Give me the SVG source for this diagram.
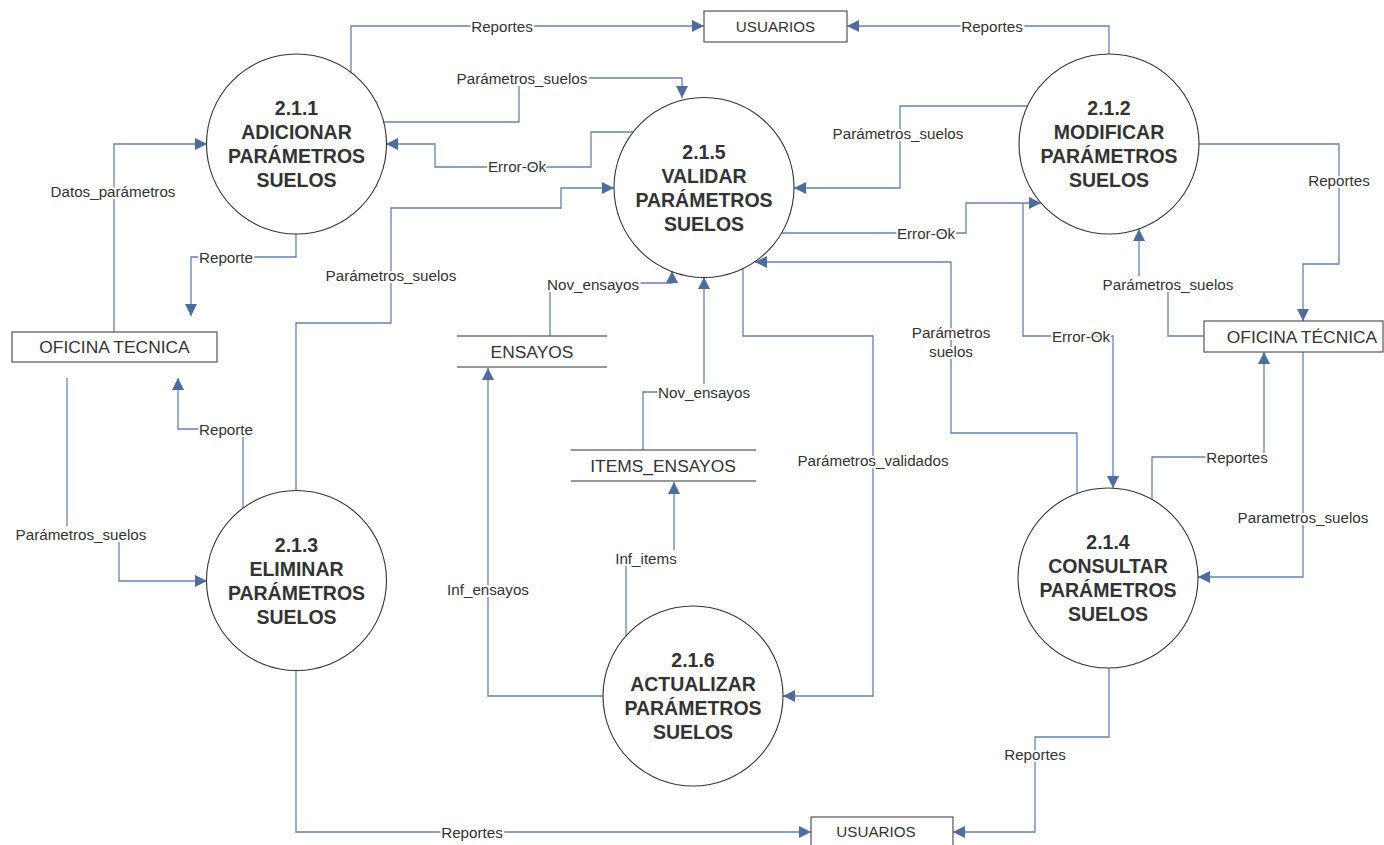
<svg xmlns="http://www.w3.org/2000/svg" width="1384" height="845" viewBox="0 0 1384 845">
<style>
.bg{fill:#ffffff}
.proc{fill:#ffffff;stroke:#333333;stroke-width:1.1}
.ent{fill:#ffffff;stroke:#555555;stroke-width:1.2}
.store{stroke:#333333;stroke-width:1.2}
.pt{font-family:"Liberation Sans",Arial,sans-serif;font-size:19.5px;font-weight:bold;fill:#333333;text-anchor:middle}
.et{font-family:"Liberation Sans",Arial,sans-serif;font-size:17.4px;fill:#333333;text-anchor:middle}
.et15{font-family:"Liberation Sans",Arial,sans-serif;font-size:15.2px;fill:#333333;text-anchor:middle}
.c{fill:none;stroke:#6683b0;stroke-width:1.3;marker-end:url(#ah)}
.lbg{fill:#ffffff}
.lb{font-family:"Liberation Sans",Arial,sans-serif;font-size:15.2px;fill:#333333;text-anchor:middle;stroke:#ffffff;stroke-width:4;paint-order:stroke;stroke-linejoin:round}
</style>
<defs>
<marker id="ah" markerUnits="userSpaceOnUse" markerWidth="13" markerHeight="12" refX="12" refY="6" orient="auto">
<path d="M0,0 L12,6 L0,12 z" fill="#4e6d9c"/>
</marker>
</defs>
<rect class="bg" x="0" y="0" width="1384" height="845"/>

<g id="connectors">
<path class="c" d="M351,72 V26 H704"/>
<path class="c" d="M1109,54 V26 H847"/>
<path class="c" d="M380,122 H519 V78 H682 V98"/>
<path class="c" d="M633,132 H591 V167 H435 V144 H386"/>
<path class="c" d="M114,332 V144 H207"/>
<path class="c" d="M296,234 V257 H191 V316"/>
<path class="c" d="M296,491 V323 H391 V208 H561 V188 H614"/>
<path class="c" d="M1027,106 H900 V188 H794"/>
<path class="c" d="M782,233 H966 V203 H1041"/>
<path class="c" d="M1023,203 V336 H1113 V488"/>
<path class="c" d="M1077,493 V433 H951 V262 H755"/>
<path class="c" d="M743,268 V336 H873 V696 H783"/>
<path class="c" d="M550,336 V283 H672 V271"/>
<path class="c" d="M643,450 V392 H704 V277"/>
<path class="c" d="M603,696 H488 V368"/>
<path class="c" d="M626,636 V558 H674 V482"/>
<path class="c" d="M67,378 V534 H119 V581 H207"/>
<path class="c" d="M243,508 V429 H178 V378"/>
<path class="c" d="M296,670 V832 H811"/>
<path class="c" d="M1109,668 V737 H1035 V832 H953"/>
<path class="c" d="M1199,144 H1339 V264 H1303 V321"/>
<path class="c" d="M1204,336 H1168 V284 H1139 V229"/>
<path class="c" d="M1152,503 V457 H1264 V352"/>
<path class="c" d="M1303,352 V577 H1198"/>
<rect class="lbg" x="455.5" y="70" width="133" height="16"/>
<rect class="lbg" x="546" y="275" width="94" height="16"/>
<rect class="lbg" x="657" y="384" width="94" height="16"/>
<rect class="lbg" x="614" y="550" width="64" height="16"/>
<rect class="lbg" x="14.5" y="526" width="133" height="16"/>
<rect class="lbg" x="1101.5" y="276" width="133" height="16"/>
<text class="lb" x="502" y="31.5">Reportes</text>
<text class="lb" x="992" y="31.5">Reportes</text>
<text class="lb" x="522" y="83.5">Parámetros_suelos</text>
<text class="lb" x="517" y="172">Error-Ok</text>
<text class="lb" x="113" y="196.5">Datos_parámetros</text>
<text class="lb" x="226" y="262.5">Reporte</text>
<text class="lb" x="391" y="280.5">Parámetros_suelos</text>
<text class="lb" x="898" y="138.5">Parámetros_suelos</text>
<text class="lb" x="926" y="238.5">Error-Ok</text>
<text class="lb" x="951" y="337.5">Parámetros</text>
<text class="lb" x="951" y="356.5">suelos</text>
<text class="lb" x="1081" y="341.5">Error-Ok</text>
<text class="lb" x="1168" y="289.5">Parámetros_suelos</text>
<text class="lb" x="1339" y="185.5">Reportes</text>
<text class="lb" x="1237" y="462.5">Reportes</text>
<text class="lb" x="1303" y="522.5">Parametros_suelos</text>
<text class="lb" x="873" y="465.5">Parámetros_validados</text>
<text class="lb" x="593" y="289.5">Nov_ensayos</text>
<text class="lb" x="704" y="397.5">Nov_ensayos</text>
<text class="lb" x="646" y="563.5">Inf_items</text>
<text class="lb" x="488" y="594.5">Inf_ensayos</text>
<text class="lb" x="81" y="539.5">Parámetros_suelos</text>
<text class="lb" x="226" y="434.5">Reporte</text>
<text class="lb" x="472" y="837.5">Reportes</text>
<text class="lb" x="1035" y="759.5">Reportes</text>
</g>

<g id="p211">
<circle class="proc" cx="296.5" cy="144" r="90"/>
<text class="pt" x="296.5" y="115">2.1.1</text>
<text class="pt" x="296.5" y="139">ADICIONAR</text>
<text class="pt" x="296.5" y="163">PARÁMETROS</text>
<text class="pt" x="296.5" y="187">SUELOS</text>
</g>
<g id="p215">
<circle class="proc" cx="704" cy="187.5" r="90"/>
<text class="pt" x="704" y="159">2.1.5</text>
<text class="pt" x="704" y="183">VALIDAR</text>
<text class="pt" x="704" y="207">PARÁMETROS</text>
<text class="pt" x="704" y="231">SUELOS</text>
</g>
<g id="p212">
<circle class="proc" cx="1109" cy="144" r="90"/>
<text class="pt" x="1109" y="115">2.1.2</text>
<text class="pt" x="1109" y="139">MODIFICAR</text>
<text class="pt" x="1109" y="163">PARÁMETROS</text>
<text class="pt" x="1109" y="187">SUELOS</text>
</g>
<g id="p213">
<circle class="proc" cx="296.5" cy="580.5" r="90"/>
<text class="pt" x="296.5" y="551.5">2.1.3</text>
<text class="pt" x="296.5" y="575.5">ELIMINAR</text>
<text class="pt" x="296.5" y="599.5">PARÁMETROS</text>
<text class="pt" x="296.5" y="623.5">SUELOS</text>
</g>
<g id="p216">
<circle class="proc" cx="693" cy="696" r="90"/>
<text class="pt" x="693" y="667">2.1.6</text>
<text class="pt" x="693" y="691">ACTUALIZAR</text>
<text class="pt" x="693" y="715">PARÁMETROS</text>
<text class="pt" x="693" y="739">SUELOS</text>
</g>
<g id="p214">
<circle class="proc" cx="1108" cy="578" r="90"/>
<text class="pt" x="1108" y="549">2.1.4</text>
<text class="pt" x="1108" y="573">CONSULTAR</text>
<text class="pt" x="1108" y="597">PARÁMETROS</text>
<text class="pt" x="1108" y="621">SUELOS</text>
</g>

<g id="usuarios_top">
<rect class="ent" x="704" y="11" width="143" height="31"/>
<text class="et15" x="775.5" y="31.5">USUARIOS</text>
</g>
<g id="oficina_tecnica_left">
<rect class="ent" x="12" y="332" width="205" height="30"/>
<text class="et" x="114.5" y="353">OFICINA TECNICA</text>
</g>
<g id="oficina_tecnica_right">
<rect class="ent" x="1204" y="321" width="179" height="31"/>
<text class="et" x="1302" y="342.5">OFICINA TÉCNICA</text>
</g>
<g id="usuarios_bottom">
<rect class="ent" x="811" y="817" width="142" height="31"/>
<text class="et15" x="876" y="836.5">USUARIOS</text>
</g>
<g id="ensayos">
<line class="store" x1="457" y1="336" x2="607" y2="336"/>
<line class="store" x1="457" y1="367" x2="607" y2="367"/>
<text class="et" x="532" y="357.5">ENSAYOS</text>
</g>
<g id="items_ensayos">
<line class="store" x1="571" y1="450" x2="756" y2="450"/>
<line class="store" x1="571" y1="481" x2="756" y2="481"/>
<text class="et" x="663" y="471.5">ITEMS_ENSAYOS</text>
</g>
</svg>
